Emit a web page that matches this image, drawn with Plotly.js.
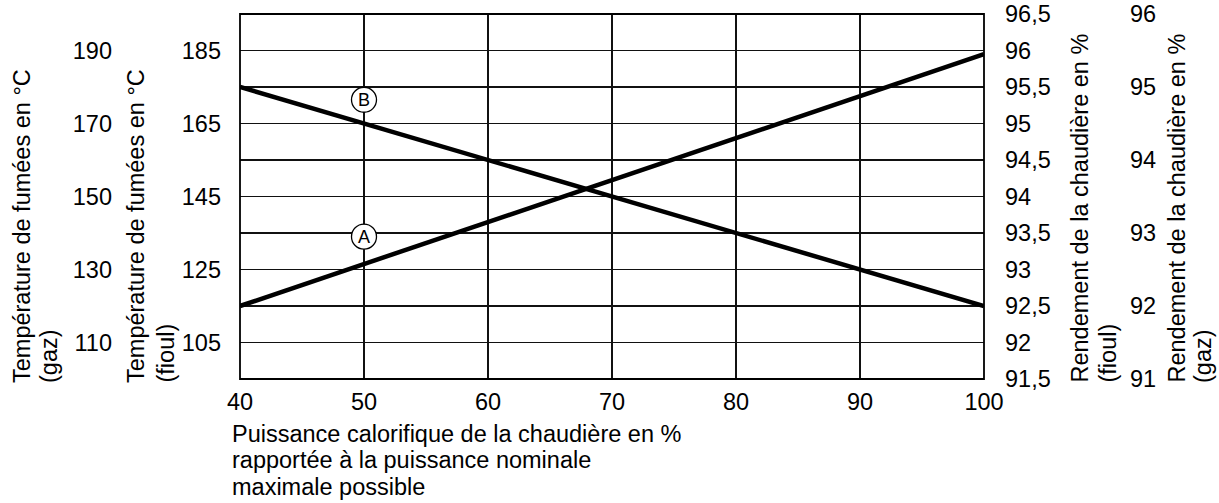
<!DOCTYPE html>
<html>
<head>
<meta charset="utf-8">
<script src="https://cdn.plot.ly/plotly-3.0.1.min.js"></script>
<style>html,body{margin:0;padding:0;background:#fff;}#chart{width:1219px;height:503px;}</style>
</head>
<body>
<div id="chart"></div>
<script>
// ---- data ----
const loadPct = [40, 100];
const curveA_effFioul = [92.5, 95.95];   // curve A, read on "Rendement (fioul)" axis
const curveB_tempFioul = [175, 115];     // curve B, read on "Température (fioul)" axis
const xTicks = [40, 50, 60, 70, 80, 90, 100];
const tempFioulTicks = [105, 125, 145, 165, 185];
const tempGazTicks = [110, 130, 150, 170, 190];
const effFioulTicks = [91.5, 92, 92.5, 93, 93.5, 94, 94.5, 95, 95.5, 96, 96.5];
const effFioulLabels = ['91,5', '92', '92,5', '93', '93,5', '94', '94,5', '95', '95,5', '96', '96,5'];
const effGazTicks = [91, 92, 93, 94, 95, 96];
const effGazLabels = ['91', '92', '93', '94', '95', '96'];
const curveLabels = ['A', 'B'];
const curveLabelX = [50, 50];
const curveLabelY = [134, 171.5]; // on fioul temperature axis

const W = 1219, H = 503, T = 14, B = 124;
const plotTop = T, plotBot = H - B, plotH = plotBot - plotTop;
const px = v => v / W;
const py = v => (plotBot - v) / plotH;

const FONT = 'Liberation Sans, Arial, sans-serif';
const FS = 23.5;
const font = {family: FONT, size: FS, color: '#000'};

const traces = [
  {x: loadPct, y: curveB_tempFioul, yaxis: 'y', mode: 'lines', line: {color: '#000', width: 4.5}, hoverinfo: 'skip'},
  {x: loadPct, y: curveA_effFioul, yaxis: 'y3', mode: 'lines', line: {color: '#000', width: 4.5}, hoverinfo: 'skip'}
];

const axBase = {showgrid: false, zeroline: false, showline: false, ticks: '', tickfont: font, fixedrange: true};

const annotations = [];
function rotTitle(text, xc, ybot) {
  annotations.push({text: text, xref: 'paper', yref: 'paper', x: px(xc), y: py(ybot),
    xanchor: 'center', yanchor: 'bottom', textangle: -90, showarrow: false, font: font, borderpad: 0});
}
rotTitle('Température de fumées en °C', 22, 384);
rotTitle('(gaz)', 49, 384);
rotTitle('Température de fumées en °C', 136, 384);
rotTitle('(fioul)', 165, 384);
rotTitle('Rendement de la chaudière en %', 1079, 384);
rotTitle('(fioul)', 1107, 384);
rotTitle('Rendement de la chaudière en %', 1176, 384);
rotTitle('(gaz)', 1203, 384);

const xTitleLines = ['Puissance calorifique de la chaudière en %', 'rapportée à la puissance nominale', 'maximale possible'];
xTitleLines.forEach((t, i) => {
  annotations.push({text: t, xref: 'paper', yref: 'paper', x: px(231), y: py(434 + i * 26.5),
    xanchor: 'left', yanchor: 'middle', showarrow: false, font: font, borderpad: 0});
});

const shapes = [
  {type: 'rect', xref: 'x domain', yref: 'y domain', x0: 0, x1: 1, y0: 0, y1: 1, line: {color: '#000', width: 1.8}, layer: 'above'}
];
curveLabels.forEach((t, i) => {
  shapes.push({type: 'circle', xref: 'x', yref: 'y', xsizemode: 'pixel', ysizemode: 'pixel',
    xanchor: curveLabelX[i], yanchor: curveLabelY[i], x0: -12.5, x1: 12.5, y0: -12.5, y1: 12.5,
    line: {color: '#000', width: 1.3}, fillcolor: '#fff', layer: 'above'});
  annotations.push({text: t, x: curveLabelX[i], y: curveLabelY[i], xref: 'x', yref: 'y', showarrow: false,
    font: {family: FONT, size: 18, color: '#000'}, xanchor: 'center', yanchor: 'middle'});
});

const layout = {
  width: W, height: H,
  margin: {l: 0, r: 0, t: T, b: B, pad: 0},
  paper_bgcolor: '#fff', plot_bgcolor: '#fff',
  showlegend: false,
  separators: ', ',
  font: font,
  xaxis: Object.assign({}, axBase, {
    domain: [px(240), px(984)], range: [40, 100], tickvals: xTicks,
    showgrid: true, gridcolor: '#111', gridwidth: 1.3, ticklabelstandoff: 6
  }),
  yaxis: Object.assign({}, axBase, {
    range: [95, 195], tickvals: tempFioulTicks, anchor: 'free', position: px(221), side: 'left'
  }),
  yaxis2: Object.assign({}, axBase, {
    range: [100, 200], tickvals: tempGazTicks, anchor: 'free', position: px(112), side: 'left', overlaying: 'y'
  }),
  yaxis3: Object.assign({}, axBase, {
    range: [91.5, 96.5], tickvals: effFioulTicks, ticktext: effFioulLabels, anchor: 'free', position: px(1004),
    side: 'right', overlaying: 'y', showgrid: true, gridcolor: '#111', gridwidth: 1.3
  }),
  yaxis4: Object.assign({}, axBase, {
    range: [91, 96], tickvals: effGazTicks, ticktext: effGazLabels, anchor: 'free', position: px(1129),
    side: 'right', overlaying: 'y'
  }),
  shapes: shapes,
  annotations: annotations
};

// dummy traces so overlay axes render
traces.push({x: [null], y: [null], yaxis: 'y2', mode: 'lines', hoverinfo: 'skip'});
traces.push({x: [null], y: [null], yaxis: 'y4', mode: 'lines', hoverinfo: 'skip'});

Plotly.newPlot('chart', traces, layout, {staticPlot: true, displayModeBar: false});
</script>
</body>
</html>
